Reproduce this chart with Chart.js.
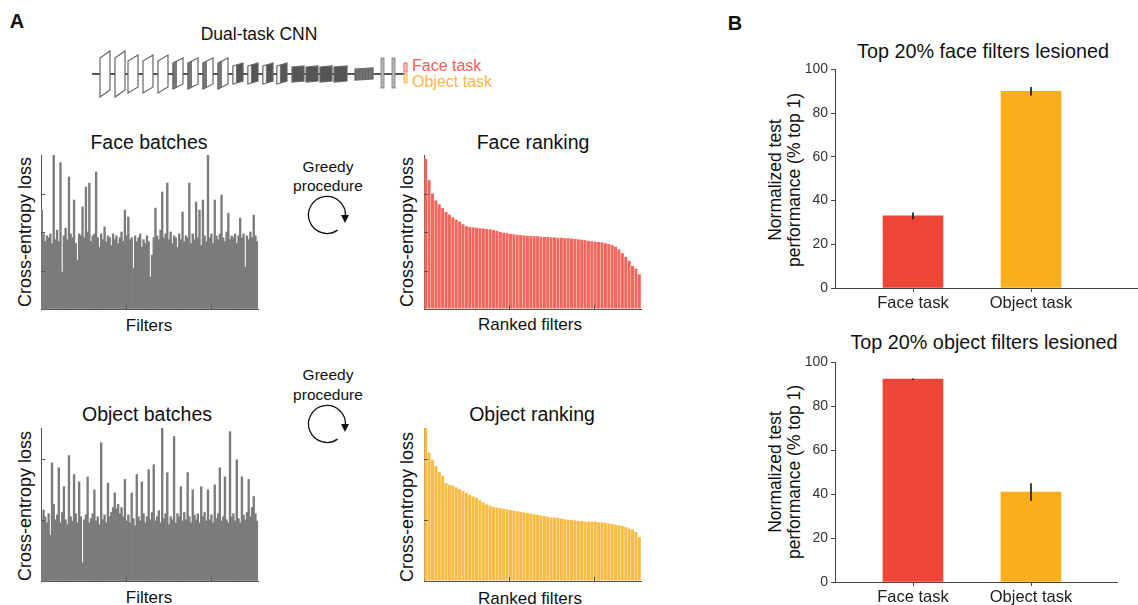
<!DOCTYPE html>
<html lang="en">
<head>
<meta charset="UTF-8">
<title>Dual-task CNN lesions</title>
<script src="https://cdn.jsdelivr.net/npm/chart.js"></script>
<style>
  body { margin: 0; background: #fff; }
  #fig { position: relative; width: 1138px; height: 605px; overflow: hidden;
         font-family: "Liberation Sans", Arial, Helvetica, sans-serif; color: #111; }
  .box { position: absolute; }
  .t { position: absolute; white-space: nowrap; line-height: 1; transform: translate(-50%, -50%); }
  .l { transform: translate(0, -50%); }
  .r { transform: translate(-50%, -50%) rotate(-90deg); }
  svg { position: absolute; left: 0; top: 0; }
</style>
</head>
<body>
<div id="fig">
  <svg id="art" width="1138" height="605"></svg>

  <div class="t" style="left:17px;top:21px;font-size:20px;font-weight:bold">A</div>
  <div class="t" style="left:735px;top:23px;font-size:20px;font-weight:bold">B</div>
  <div class="t" style="left:259px;top:35px;font-size:17.5px">Dual-task CNN</div>
  <div class="t l" style="left:412px;top:66px;font-size:16px;color:#f1615a">Face task</div>
  <div class="t l" style="left:412px;top:82px;font-size:16px;color:#fbb646">Object task</div>

  <div class="t" style="left:149px;top:143px;font-size:19.5px">Face batches</div>
  <div class="t" style="left:533px;top:143px;font-size:19.5px">Face ranking</div>
  <div class="t" style="left:147px;top:415px;font-size:19.5px">Object batches</div>
  <div class="t" style="left:532px;top:415px;font-size:19.5px">Object ranking</div>
  <div class="t" style="left:149px;top:325px;font-size:17px">Filters</div>
  <div class="t" style="left:530px;top:324px;font-size:17px">Ranked filters</div>
  <div class="t" style="left:149px;top:597px;font-size:17px">Filters</div>
  <div class="t" style="left:530px;top:598px;font-size:17px">Ranked filters</div>
  <div class="t r" style="left:25px;top:232px;font-size:18px">Cross-entropy loss</div>
  <div class="t r" style="left:407px;top:232px;font-size:18px">Cross-entropy loss</div>
  <div class="t r" style="left:25px;top:506px;font-size:18px">Cross-entropy loss</div>
  <div class="t r" style="left:407px;top:507px;font-size:18px">Cross-entropy loss</div>

  <div class="t" style="left:328px;top:167px;font-size:15.5px">Greedy</div>
  <div class="t" style="left:328px;top:186px;font-size:15.5px">procedure</div>
  <div class="t" style="left:328px;top:375px;font-size:15.5px">Greedy</div>
  <div class="t" style="left:328px;top:395px;font-size:15.5px">procedure</div>

  <div class="t" style="left:983px;top:52px;font-size:19.8px">Top 20% face filters lesioned</div>
  <div class="t" style="left:984px;top:343px;font-size:19.8px">Top 20% object filters lesioned</div>
  <div class="t r" style="left:776px;top:180px;font-size:17.5px">Normalized test</div>
  <div class="t r" style="left:795px;top:180px;font-size:17.5px">performance (% top 1)</div>
  <div class="t r" style="left:776px;top:472px;font-size:17.5px">Normalized test</div>
  <div class="t r" style="left:795px;top:472px;font-size:17.5px">performance (% top 1)</div>

  <div class="box" style="left:40px;top:153px;width:219px;height:157px"><canvas id="faceBatches"></canvas></div>
  <div class="box" style="left:423px;top:153px;width:219px;height:157px"><canvas id="faceRank"></canvas></div>
  <div class="box" style="left:40px;top:426px;width:219px;height:156px"><canvas id="objBatches"></canvas></div>
  <div class="box" style="left:423px;top:426px;width:219px;height:156px"><canvas id="objRank"></canvas></div>

  <div class="box" style="left:790px;top:58px;width:348px;height:260px"><canvas id="faceLesion"></canvas></div>
  <div class="box" style="left:790px;top:351px;width:328px;height:261px"><canvas id="objLesion"></canvas></div>
</div>

<script>
// ---- data ----
const nFilters = 512;

const faceBatchLoss = [
  2.57, 1.95, 1.75, 1.9, 1.85, 1.95, 1.7, 4.0, 1.8, 2.05, 1.75, 3.8, 0.96, 1.9, 2.1, 1.8,
  3.43, 1.95, 1.85, 2.83, 1.7, 1.27, 1.95, 1.9, 2.65, 1.85, 3.17, 2.0, 3.27, 1.75, 1.9, 1.95,
  3.56, 1.85, 1.6, 1.95, 1.8, 2.13, 1.75, 1.9, 1.85, 1.65, 1.95, 1.8, 1.9, 1.7, 1.85, 2.0,
  1.75, 2.57, 1.9, 2.39, 1.8, 1.85, 1.06, 1.9, 1.75, 1.85, 1.95, 1.6, 1.8, 1.7, 1.9, 1.75,
  0.83, 1.4, 1.85, 2.62, 1.9, 1.8, 2.05, 3.04, 1.85, 1.95, 3.27, 1.8, 2.0, 1.7, 1.9, 1.85,
  1.6, 1.95, 1.8, 2.52, 1.75, 1.9, 1.85, 3.27, 1.7, 1.95, 1.8, 2.78, 1.85, 2.57, 1.65, 2.83,
  1.9, 1.75, 4.0, 1.85, 1.95, 1.7, 2.83, 1.9, 1.8, 1.95, 2.96, 1.85, 1.75, 2.0, 2.49, 1.8,
  1.9, 1.85, 1.95, 1.7, 1.9, 2.36, 1.85, 1.95, 1.09, 1.9, 1.8, 2.0, 1.85, 2.44, 1.9, 1.75
];

const faceRankLoss = [
  3.9, 3.35, 3.0, 2.82, 2.72, 2.62, 2.52, 2.45, 2.38, 2.32, 2.27, 2.2, 2.15, 2.13, 2.12, 2.11,
  2.1, 2.09, 2.08, 2.07, 2.05, 2.03, 2.0, 1.98, 1.97, 1.95, 1.94, 1.93, 1.92, 1.91, 1.9, 1.9,
  1.89, 1.89, 1.88, 1.87, 1.87, 1.86, 1.86, 1.85, 1.85, 1.84, 1.84, 1.83, 1.82, 1.81, 1.8, 1.79,
  1.77, 1.76, 1.75, 1.74, 1.73, 1.71, 1.69, 1.66, 1.62, 1.55, 1.45, 1.35, 1.25, 1.12, 1.05, 0.9
];

const objBatchLoss = [
  1.0, 1.16, 1.05, 0.95, 1.1, 0.75, 1.93, 1.25, 1.0, 1.08, 1.85, 0.95, 1.12, 1.54, 1.0, 0.92,
  2.05, 1.05, 0.98, 1.74, 1.1, 0.95, 1.62, 1.05, 0.3, 1.0, 1.08, 1.7, 0.95, 1.02, 1.1, 1.49,
  0.98, 1.05, 0.92, 2.26, 1.0, 1.08, 0.95, 1.6, 1.05, 1.12, 1.2, 1.44, 1.18, 1.25, 1.1, 1.2,
  1.05, 1.66, 0.98, 1.08, 0.95, 1.44, 1.02, 0.9, 1.74, 1.05, 0.98, 1.62, 1.1, 0.95, 1.05, 1.82,
  1.0, 1.12, 1.9, 0.98, 1.05, 1.15, 0.95, 2.5, 1.02, 1.1, 1.77, 0.92, 1.05, 1.0, 2.36, 0.95,
  1.1, 1.05, 1.54, 0.98, 1.12, 1.0, 1.77, 1.05, 0.95, 1.49, 1.08, 1.0, 1.1, 0.95, 1.54, 1.05,
  1.12, 0.98, 1.49, 1.0, 1.08, 0.95, 1.57, 1.02, 1.1, 1.85, 0.98, 1.05, 1.7, 1.0, 0.95, 2.44,
  1.05, 1.1, 0.98, 1.98, 1.02, 0.95, 1.7, 1.08, 1.0, 1.12, 1.66, 1.05, 1.2, 1.38, 1.1, 0.98
];

const objRankLoss = [
  2.5, 2.1, 1.98, 1.88, 1.78, 1.72, 1.6, 1.57, 1.56, 1.53, 1.5, 1.47, 1.44, 1.41, 1.38, 1.36,
  1.32, 1.28, 1.25, 1.23, 1.21, 1.2, 1.19, 1.18, 1.17, 1.16, 1.15, 1.14, 1.13, 1.12, 1.11, 1.1,
  1.09, 1.08, 1.07, 1.06, 1.05, 1.04, 1.035, 1.03, 1.02, 1.01, 1.0, 1.0, 0.99, 0.98, 0.98, 0.97,
  0.97, 0.97, 0.97, 0.96, 0.96, 0.95, 0.94, 0.93, 0.92, 0.91, 0.9, 0.88, 0.86, 0.84, 0.8, 0.72
];

const taskLabels = ['Face task', 'Object task'];
const faceLesionPerf = [33, 90];
const faceLesionErr = [1.5, 1.9];
const objLesionPerf = [92.4, 41];
const objLesionErr = [0.3, 4];

// ---- chart setup ----
Chart.defaults.font.family = '"Liberation Sans", Arial, sans-serif';
Chart.defaults.animation = false;

// small tick marks pointing into the plot (panel A)
const inwardTicks = {
  id: 'inwardTicks',
  afterDraw(chart) {
    const { ctx, chartArea: a, scales: { x, y } } = chart;
    ctx.save();
    ctx.strokeStyle = '#555';
    ctx.lineWidth = 1;
    ctx.beginPath();
    y.ticks.forEach(t => {
      if (t.value > y.min && t.value < y.max) {
        const py = Math.round(y.getPixelForValue(t.value)) + 0.5;
        ctx.moveTo(a.left, py); ctx.lineTo(a.left + 4, py);
      }
    });
    x.ticks.forEach(t => {
      if (t.value > x.min && t.value < x.max) {
        const px = Math.round(x.getPixelForValue(t.value)) + 0.5;
        ctx.moveTo(px, a.bottom); ctx.lineTo(px, a.bottom - 4);
      }
    });
    ctx.stroke();
    ctx.restore();
  }
};

function lossChart(id, values, color, yMax, barPct) {
  const step = nFilters / values.length;
  new Chart(document.getElementById(id), {
    type: 'bar',
    data: {
      datasets: [{
        data: values.map((v, i) => ({ x: (i + 0.5) * step, y: v })),
        backgroundColor: color,
        borderWidth: 0,
        barPercentage: barPct,
        categoryPercentage: 1
      }]
    },
    options: {
      responsive: true,
      maintainAspectRatio: false,
      layout: { padding: { left: 1, top: 2, right: 1, bottom: 1 } },
      plugins: { legend: { display: false }, tooltip: { enabled: false } },
      scales: {
        x: {
          type: 'linear', min: 0, max: nFilters, offset: false,
          ticks: { display: false, stepSize: 200, includeBounds: false },
          grid: { drawOnChartArea: false, drawTicks: false, offset: false },
          border: { color: '#555' },
          afterFit: s => { s.height = 0; }
        },
        y: {
          min: 0, max: yMax,
          ticks: { display: false, stepSize: 1 },
          grid: { drawOnChartArea: false, drawTicks: false },
          border: { color: '#555' },
          afterFit: s => { s.width = 0; }
        }
      }
    },
    plugins: [inwardTicks]
  });
}

lossChart('faceBatches', faceBatchLoss, '#7b7b7b', 4, 1);
lossChart('faceRank', faceRankLoss, '#f2665c', 4, 0.88);
lossChart('objBatches', objBatchLoss, '#7b7b7b', 2.5, 1);
lossChart('objRank', objRankLoss, '#f9bb42', 2.5, 0.88);

// error bars plus the small x tick under each bar
const errorBars = {
  id: 'errorBars',
  afterDatasetsDraw(chart) {
    const { ctx, chartArea: a, scales: { x, y } } = chart;
    const ds = chart.data.datasets[0];
    ctx.save();
    ds.data.forEach((p, i) => {
      const e = ds.errors[i];
      const px = x.getPixelForValue(p.x);
      ctx.strokeStyle = '#111';
      ctx.lineWidth = 1.6;
      ctx.beginPath();
      ctx.moveTo(px, y.getPixelForValue(p.y - e));
      ctx.lineTo(px, y.getPixelForValue(p.y + e));
      ctx.stroke();
      const tx = Math.round(px) + 0.5;
      ctx.strokeStyle = '#444';
      ctx.lineWidth = 1;
      ctx.beginPath();
      ctx.moveTo(tx, a.bottom);
      ctx.lineTo(tx, a.bottom + 4);
      ctx.stroke();
    });
    ctx.restore();
  }
};

function lesionChart(id, perf, err, xMax) {
  new Chart(document.getElementById(id), {
    type: 'bar',
    data: {
      datasets: [{
        data: perf.map((v, i) => ({ x: i + 1, y: v })),
        errors: err,
        backgroundColor: ['#ef4537', '#f8ae1d'],
        borderWidth: 0,
        barThickness: 60
      }]
    },
    options: {
      responsive: true,
      maintainAspectRatio: false,
      layout: { padding: { left: 0, top: 8, right: 1, bottom: 0 } },
      plugins: { legend: { display: false }, tooltip: { enabled: false } },
      scales: {
        x: {
          type: 'linear', min: 0.339, max: xMax, offset: false,
          afterBuildTicks: s => { s.ticks = taskLabels.map((_, i) => ({ value: i + 1 })); },
          ticks: {
            color: '#222', padding: 6,
            font: { size: 16.5 }, maxRotation: 0, autoSkip: false,
            callback: v => taskLabels[Math.round(v) - 1] || ''
          },
          grid: { display: false, drawOnChartArea: false, drawTicks: false, offset: false },
          border: { display: true, color: '#444' },
          afterFit: s => { s.height = 30; }
        },
        y: {
          min: 0, max: 100,
          ticks: { stepSize: 20, color: '#333', padding: 3, font: { size: 14 } },
          grid: { drawOnChartArea: false, tickLength: 4, color: '#444' },
          border: { color: '#444' },
          afterFit: s => { s.width = 45; }
        }
      }
    },
    plugins: [errorBars]
  });
}

lesionChart('faceLesion', faceLesionPerf, faceLesionErr, 2.898);
lesionChart('objLesion', objLesionPerf, objLesionErr, 2.729);

// ---- CNN sketch and greedy arrows ----
const NS = 'http://www.w3.org/2000/svg';
const art = document.getElementById('art');
function el(tag, attrs) {
  const e = document.createElementNS(NS, tag);
  for (const k in attrs) e.setAttribute(k, attrs[k]);
  art.appendChild(e);
  return e;
}

el('line', { x1: 92, y1: 74, x2: 405, y2: 74, stroke: '#555', 'stroke-width': 2 });

// [left, width, top, bottom, skew, face, side]
const layers = [
  [100, 10, 51, 97, 7, '#fff', '#fff'], [115, 10, 51, 97, 7, '#fff', '#fff'],
  [128, 10, 55, 93, 6, '#fff', '#fff'], [143, 10, 55, 93, 6, '#fff', '#fff'], [158, 10, 55, 93, 6, '#fff', '#fff'],
  [173, 10, 58, 89, 5, '#fff', '#777'], [188, 10, 58, 89, 5, '#fff', '#777'],
  [203, 10, 58, 89, 5, '#fff', '#777'], [218, 10, 58, 89, 5, '#fff', '#777'],
  [233, 10, 63, 84, 3, '#555', '#eee'], [248, 10, 63, 84, 3, '#555', '#eee'],
  [263, 10, 63, 84, 3, '#555', '#eee'], [277, 10, 63, 84, 3, '#555', '#eee'],
  [292, 12, 66, 82, 1, '#555', '#555'], [306, 12, 66, 82, 1, '#555', '#555'],
  [320, 12, 66, 82, 1, '#555', '#555'], [334, 13, 66, 82, 1, '#555', '#555'],
  [355, 18, 68, 80, 1, '#666', '#666']
];
layers.forEach(([x, w, top, bot, s, face, side]) => {
  el('polygon', {
    points: `${x},${top + s} ${x + w},${top} ${x + w},${bot - s} ${x},${bot}`,
    fill: face, stroke: '#666', 'stroke-width': 1.2
  });
  if (side !== face) {
    const k = 3.5, d = s * k / w;
    el('polygon', {
      points: `${x},${top + s} ${x + k},${top + s - d} ${x + k},${bot - d} ${x},${bot}`,
      fill: side, stroke: '#666', 'stroke-width': 0.8
    });
  }
});
for (let i = 0; i < 6; i++) {
  el('line', { x1: 358 + i * 3, y1: 68, x2: 358 + i * 3, y2: 80, stroke: '#888', 'stroke-width': 0.8 });
}
el('rect', { x: 381, y: 58, width: 3, height: 30, fill: '#bbb', stroke: '#777', 'stroke-width': 0.8 });
el('rect', { x: 392, y: 58, width: 3, height: 30, fill: '#bbb', stroke: '#777', 'stroke-width': 0.8 });
el('rect', { x: 404, y: 63, width: 3, height: 9, fill: '#fcc', stroke: '#f06060', 'stroke-width': 1 });
el('rect', { x: 404, y: 74, width: 3, height: 9, fill: '#fde3a8', stroke: '#fbb040', 'stroke-width': 1 });

function greedyArrow(cx, cy, r) {
  const a0 = 55 * Math.PI / 180, a1 = 5 * Math.PI / 180;
  el('path', {
    d: `M ${cx + r * Math.cos(a0)} ${cy + r * Math.sin(a0)} A ${r} ${r} 0 1 1 ${cx + r * Math.cos(a1)} ${cy + r * Math.sin(a1)}`,
    fill: 'none', stroke: '#111', 'stroke-width': 1.3
  });
  const ax = cx + r - 0.5, ay = cy + 2;
  el('polygon', { points: `${ax - 4},${ay - 2} ${ax + 4},${ay - 2} ${ax},${ay + 6}`, fill: '#111' });
}
greedyArrow(327, 215, 18.5);
greedyArrow(327, 424, 18.5);
</script>
</body>
</html>
